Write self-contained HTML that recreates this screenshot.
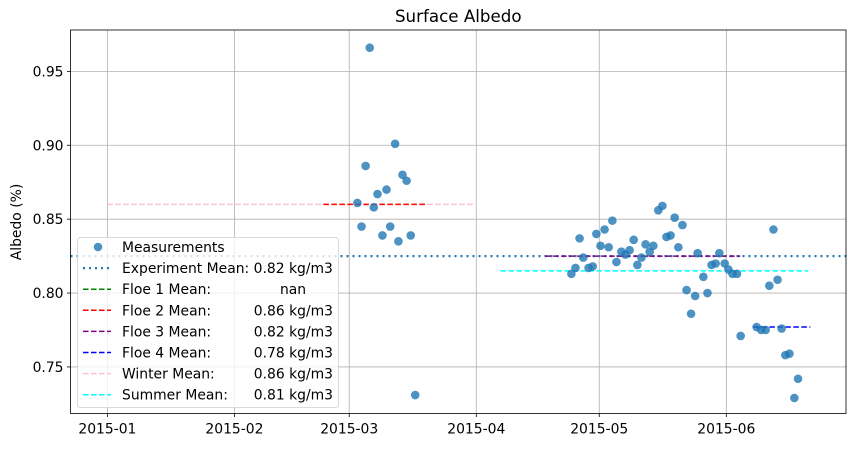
<!DOCTYPE html>
<html><head><meta charset="utf-8"><style>
body{margin:0;background:#fff;}
svg{display:block;font-family:"DejaVu Sans","Liberation Sans",sans-serif;}
</style></head><body>
<svg id="chart" width="855" height="449"></svg>
<script>
// Data: x = day of year 2015 (0 = Jan 1), y = albedo
const measDays = [64.0,70.2,63.0,72.0,73.0,68.1,65.9,61.0,65.0,62.0,69.0,67.1,74.0,71.0,75.1,
113.2,114.2,115.2,116.1,117.4,118.4,119.3,120.3,121.3,122.3,123.2,124.2,125.4,126.4,127.4,128.4,129.3,130.3,131.3,132.3,133.2,134.4,135.4,136.4,137.4,138.4,139.3,140.3,141.3,143.4,142.4,144.0,
145.4,146.4,147.4,148.4,149.3,150.6,151.5,152.5,153.6,154.5,158.4,159.5,160.6,161.5,162.5,163.5,164.5,165.4,166.4,167.6,168.5];
const measVals = [0.966,0.901,0.886,0.880,0.876,0.870,0.867,0.861,0.858,0.845,0.845,0.839,0.839,0.835,0.731,
0.813,0.817,0.837,0.824,0.817,0.818,0.840,0.832,0.843,0.831,0.849,0.821,0.828,0.826,0.829,0.836,0.819,0.824,0.833,0.828,0.832,0.856,0.859,0.838,0.839,0.851,0.831,0.846,0.802,0.798,0.786,0.827,
0.811,0.800,0.819,0.820,0.827,0.820,0.816,0.813,0.813,0.771,0.777,0.775,0.775,0.805,0.843,0.809,0.776,0.758,0.759,0.729,0.742];
const meanNames = ["experiment-mean","winter-mean","floe-2-mean","floe-3-mean","summer-mean","floe-4-mean"];
const meanStart = [-9.0,0,52.7,106.8,95.9,157.6];
const meanEnd = [180.2,90,77.8,154.4,171,171.5];
const meanVals = [0.825,0.860,0.860,0.825,0.815,0.777];
const meanColors = ["#1f77b4","pink","red","purple","cyan","blue"];
const xTickDays = [0,31,59,90,120,151];
const xTickLabels = ["2015-01","2015-02","2015-03","2015-04","2015-05","2015-06"];
const yTicks = [0.75,0.80,0.85,0.90,0.95];
const legendLabels = ["Measurements","Experiment Mean: 0.82 kg/m3","Floe 1 Mean:","Floe 2 Mean:","Floe 3 Mean:","Floe 4 Mean:","Winter Mean:","Summer Mean:"];
const legendValues = ["","","nan","0.86 kg/m3","0.82 kg/m3","0.78 kg/m3","0.86 kg/m3","0.81 kg/m3"];
const legendColors = ["#1f77b4","#1f77b4","green","red","purple","blue","pink","cyan"];

const L=70.5,R=846,T=30,B=413.5;
const xMin=-9.0,xMax=180.2,yMin=0.7185,yMax=0.978;
const xs=d=>L+(d-xMin)/(xMax-xMin)*(R-L);
const ys=v=>B-(v-yMin)/(yMax-yMin)*(B-T);
const svg=document.getElementById('chart');
const NS="http://www.w3.org/2000/svg";
function mk(tag,attrs,parent){const e=document.createElementNS(NS,tag);for(const k in attrs)e.setAttribute(k,attrs[k]);(parent||svg).appendChild(e);return e;}
const FS=13.9;

// grid
xTickDays.forEach((d,i)=>{
  const x=xs(d);
  const g=mk('line',{x1:x,x2:x,y1:T,y2:B,stroke:'#b0b0b0','stroke-width':0.8});
  
  
  mk('line',{x1:x,x2:x,y1:B,y2:B+3.5,stroke:'#000','stroke-width':0.8});
  const t=mk('text',{x:x,y:B+20,'text-anchor':'middle','font-size':FS,fill:'#000'});
  t.textContent=xTickLabels[i];
  
  
});
yTicks.forEach(v=>{
  const y=ys(v);
  const g=mk('line',{x1:L,x2:R,y1:y,y2:y,stroke:'#b0b0b0','stroke-width':0.8});
  
  
  mk('line',{x1:L-3.5,x2:L,y1:y,y2:y,stroke:'#000','stroke-width':0.8});
  const t=mk('text',{x:L-7,y:y+5,'text-anchor':'end','font-size':FS,fill:'#000'});
  t.textContent=v.toFixed(2);
  
  
});

// mean lines
meanVals.forEach((v,i)=>{
  const dash=i===0?'2,4':'5.5,2.5';
  const ln=mk('line',{x1:xs(meanStart[i]),x2:xs(meanEnd[i]),y1:ys(v),y2:ys(v),stroke:meanColors[i],'stroke-width':i===0?2.2:1.5,'stroke-dasharray':dash});
  
  
});

// points
measDays.forEach((d,i)=>{
  const c=mk('circle',{cx:xs(d),cy:ys(measVals[i]),r:4.3,fill:'#1f77b4','fill-opacity':0.8});
  
  
});

// frame
const fr=mk('rect',{x:L,y:T,width:R-L,height:B-T,fill:'none',stroke:'#000','stroke-width':0.8});



// title & y label
const ti=mk('text',{x:(L+R)/2,y:22,'text-anchor':'middle','font-size':16.7,fill:'#000'});
ti.textContent='Surface Albedo';


const yl=mk('text',{x:0,y:0,'text-anchor':'middle','font-size':FS,fill:'#000',transform:'translate(21,222) rotate(-90)'});
yl.textContent='Albedo (%)';



// legend
const lg=mk('g',{});


mk('rect',{x:77.5,y:237.5,width:261,height:170,rx:3,fill:'#fff','fill-opacity':0.8,stroke:'#d0d0d0','stroke-width':0.8},lg);
legendLabels.forEach((lab,i)=>{
  const y=247+i*21.1;
  if(i===0){mk('circle',{cx:98,cy:y,r:4.3,fill:'#1f77b4','fill-opacity':0.8},lg);}
  else{mk('line',{x1:83,x2:111,y1:y,y2:y,stroke:legendColors[i],'stroke-width':i===1?2.2:1.5,'stroke-dasharray':i===1?'2,4':'5.5,2.5'},lg);}
  const t=mk('text',{x:122,y:y+5,'font-size':FS,fill:'#000'},lg);
  t.textContent=lab;
  
  
  if(legendValues[i]){
    const tv=mk('text',{x:i===2?293:333,y:y+5,'text-anchor':i===2?'middle':'end','font-size':FS,fill:'#000'},lg);
    tv.textContent=legendValues[i];
    
    
  }
});
</script>
</body></html>
